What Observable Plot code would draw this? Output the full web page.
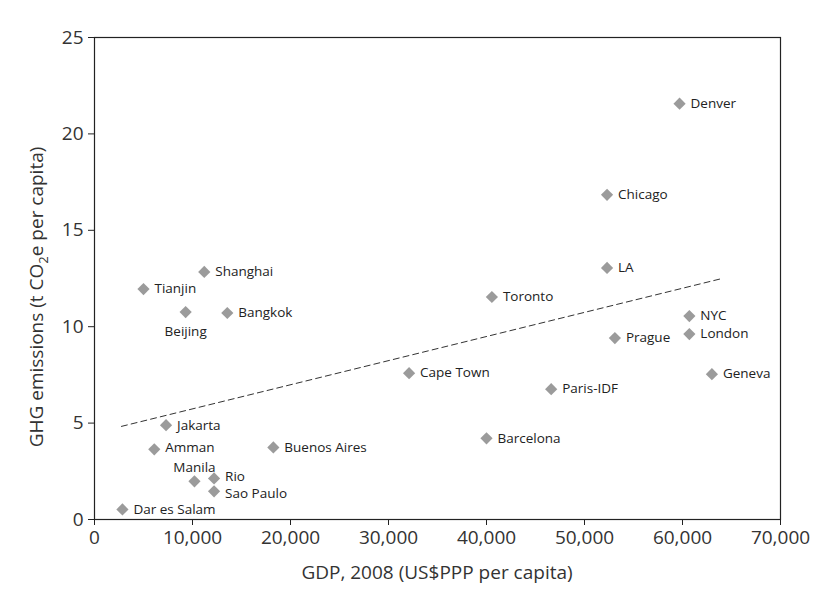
<!DOCTYPE html>
<html>
<head>
<meta charset="utf-8">
<script src="https://cdn.jsdelivr.net/npm/d3@7"></script>
<script src="https://cdn.jsdelivr.net/npm/@observablehq/plot@0.6"></script>
<style>
  body { margin: 0; background: #fff; }
  #chart svg { font-family: "Open Sans", "Noto Sans", sans-serif; }
</style>
</head>
<body>
<div id="chart"></div>
<script>
const cities = ["Denver","Chicago","LA","Toronto","NYC","London","Prague","Geneva","Cape Town","Paris-IDF","Barcelona","Shanghai","Tianjin","Beijing","Bangkok","Jakarta","Amman","Buenos Aires","Manila","Rio","Sao Paulo","Dar es Salam"];
const gdp = [59700,52300,52300,40550,60700,60700,53100,63000,32100,46600,40000,11200,5000,9300,13550,7300,6100,18250,10200,12200,12200,2850];
const ghg = [21.57,16.84,13.05,11.54,10.55,9.62,9.41,7.54,7.59,6.76,4.21,12.84,11.95,10.76,10.71,4.89,3.64,3.74,1.98,2.13,1.46,0.52];
const labelPos = ["right","right","right","right","right","right","right","right","right","right","right","right","right","below","right","right","right","right","above","right","right","right"];
const trendX = [2750, 63800];
const trendY = [4.83, 12.47];
const xTicks = [0,10000,20000,30000,40000,50000,60000,70000];
const yTicks = [0,5,10,15,20,25];

const nudge = {"Rio": -2, "Sao Paulo": 2, "Amman": -2};
const data = cities.map((c,i) => ({city: c, gdp: gdp[i], ghg: ghg[i], pos: labelPos[i], ndy: nudge[c] || 0}));
const trend = trendX.map((x,i) => ({x, y: trendY[i]}));

const W = 819, H = 605;
const ML = 94, MR = 39, MT = 37, MB = 86;
const LF = 13.5;

const rightLabels = data.filter(d => d.pos === "right");

const plot = Plot.plot({
  width: W, height: H,
  marginLeft: ML, marginRight: MR, marginTop: MT, marginBottom: MB,
  style: {fontFamily: '"Open Sans", "Noto Sans", sans-serif', background: "#fff"},
  x: {domain: [0,70000], ticks: xTicks, tickFormat: d3.format(","), label: null},
  y: {domain: [0,25], ticks: yTicks, label: null},
  marks: [
    Plot.frame({stroke: "#222", strokeWidth: 1.2}),
    Plot.axisX({ticks: xTicks, tickFormat: d3.format(","), tickSize: 6, tickPadding: 5, fontSize: 19, fill: "#333", stroke: "#222", label: null}),
    Plot.axisY({ticks: yTicks, tickSize: 6, tickPadding: 5, fontSize: 19, fill: "#333", stroke: "#222", label: null}),
    Plot.line(trend, {x: "x", y: "y", stroke: "#333", strokeWidth: 1, strokeDasharray: "6,4"}),
    Plot.dot(data, {x: "gdp", y: "ghg", symbol: "diamond2", r: 5.5, fill: "#9b9b9b", stroke: "none"}),
    ...[-2, 0, 2].map(n => Plot.text(rightLabels.filter(d => d.ndy === n), {x: "gdp", y: "ghg", text: "city", dx: 11, dy: n, textAnchor: "start", fontSize: LF, fill: "#222"})),
    Plot.text(data.filter(d => d.pos === "below"), {x: "gdp", y: "ghg", text: "city", dy: 20, textAnchor: "middle", fontSize: LF, fill: "#222"}),
    Plot.text(data.filter(d => d.pos === "above"), {x: "gdp", y: "ghg", text: "city", dy: -14, textAnchor: "middle", fontSize: LF, fill: "#222"})
  ]
});

const svg = d3.select(plot);
svg.append("text")
  .attr("x", ML + (W - ML - MR) / 2).attr("y", 579)
  .attr("text-anchor", "middle").attr("font-size", 19).attr("fill", "#333")
  .text("GDP, 2008 (US$PPP per capita)");
const yl = svg.append("text")
  .attr("transform", "translate(43,297) rotate(-90)")
  .attr("text-anchor", "middle").attr("font-size", 19).attr("fill", "#333");
yl.append("tspan").text("GHG emissions (t CO");
yl.append("tspan").attr("font-size", 13).attr("dy", 5).text("2");
yl.append("tspan").attr("dy", -5).text("e per capita)");

document.getElementById("chart").appendChild(plot);
</script>
</body>
</html>
